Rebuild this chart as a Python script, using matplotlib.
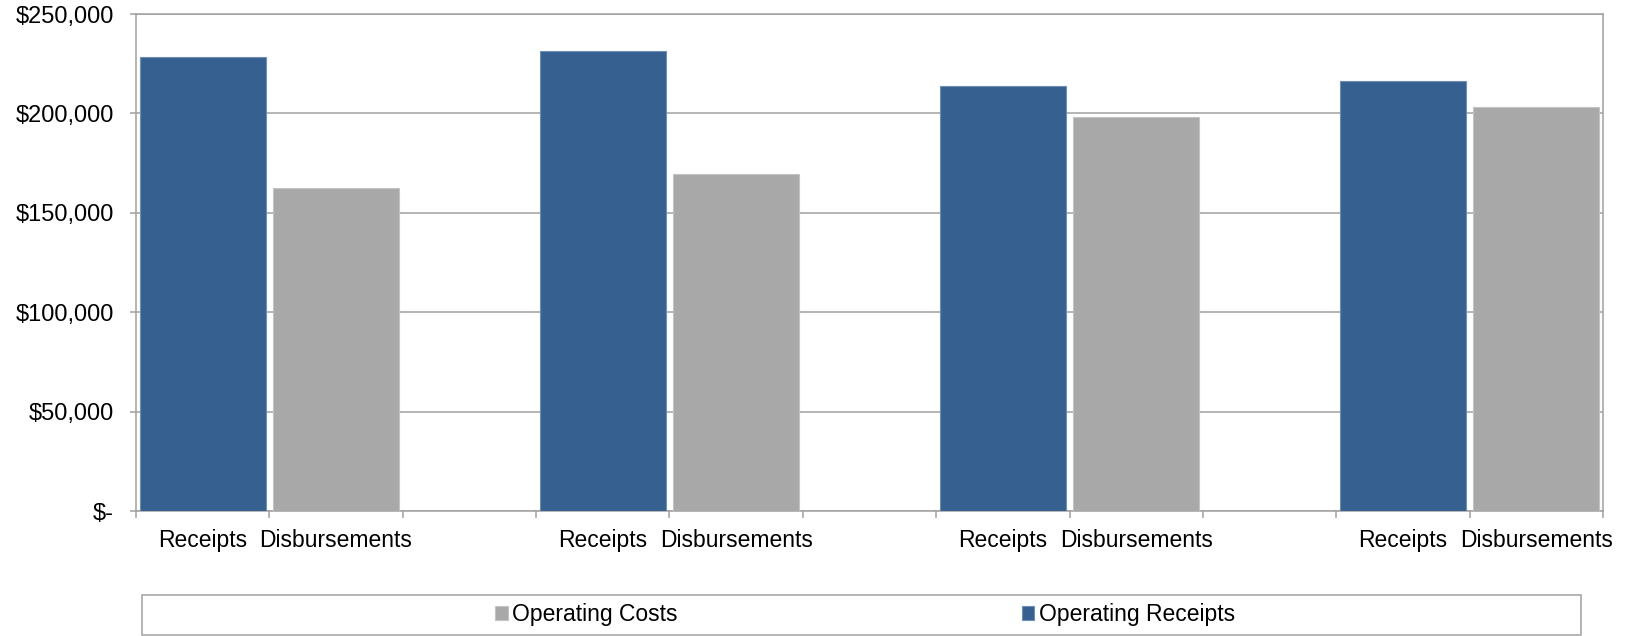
import numpy as np
import matplotlib.pyplot as plt
from matplotlib.ticker import FuncFormatter, FixedLocator
from matplotlib.patches import Rectangle

# Values (four periods)
receipts = [228200, 231500, 213600, 216200]
disbursements = [162600, 169700, 198000, 203100]
bar_labels = ['Receipts', 'Disbursements']
series_names = ['Operating Costs', 'Operating Receipts']

BLUE = '#36608f'
GREY = '#a8a8a8'
LINE = '#a0a0a0'

plt.rcParams['font.family'] = ['Liberation Sans', 'DejaVu Sans']
plt.rcParams['font.size'] = 16.5


def money(v, pos):
    if v == 0:
        return '$-'
    return '${:,.0f}'.format(v)


def main():
    fig = plt.figure(figsize=(16.4, 6.36), dpi=100)
    ax = fig.add_axes([136 / 1640, 1 - 511 / 636, (1603 - 136) / 1640, (511 - 14) / 636])

    # each period takes three slots: receipts, disbursements, blank
    n = len(receipts)
    x_rec = np.arange(n) * 3
    x_dis = np.arange(n) * 3 + 1
    width = 0.945

    ax.bar(x_dis, disbursements, width, color=GREY, edgecolor='#c4c4c4',
           linewidth=0.8, label=series_names[0], zorder=3)
    ax.bar(x_rec, receipts, width, color=BLUE, edgecolor='#6f8fb5',
           linewidth=0.8, label=series_names[1], zorder=3)

    n_slots = 3 * n - 1
    ax.set_xlim(-0.5, n_slots - 0.5)
    ax.set_ylim(0, 250000)

    # boundary ticks (major) and category labels (minor)
    ax.xaxis.set_major_locator(FixedLocator(np.arange(-0.5, n_slots)))
    ax.set_xticklabels([])
    label_pos = np.sort(np.concatenate([x_rec, x_dis]))
    ax.xaxis.set_minor_locator(FixedLocator(label_pos))
    ax.set_xticklabels(bar_labels * n, minor=True)
    ax.tick_params(axis='x', which='major', direction='out', length=5,
                   width=1.1, color=LINE)
    ax.tick_params(axis='x', which='minor', length=0, pad=13)

    ax.yaxis.set_major_locator(FixedLocator(np.arange(0, 250001, 50000)))
    ax.yaxis.set_major_formatter(FuncFormatter(money))
    ax.tick_params(axis='y', direction='out', length=4.5, width=1.1,
                   color=LINE, pad=11.5, labelsize=17)

    ax.grid(axis='y', color=LINE, linewidth=1.1, zorder=0)
    ax.set_axisbelow(True)
    for s in ax.spines.values():
        s.set_color(LINE)
        s.set_linewidth(1.1)

    # legend frame
    fig.patches.append(Rectangle((142 / 1640, 1 - 635 / 636), (1581 - 142) / 1640,
                                 40 / 636, transform=fig.transFigure,
                                 facecolor='white', edgecolor=LINE,
                                 linewidth=1.1))
    fig.legend(loc='center', bbox_to_anchor=(865 / 1640, 1 - 615 / 636),
               ncol=2, frameon=False, handlelength=0.55, handleheight=0.55,
               handletextpad=0.2, columnspacing=15.0, borderpad=0)

    fig.savefig('out.png', dpi=100)


if __name__ == '__main__':
    main()
